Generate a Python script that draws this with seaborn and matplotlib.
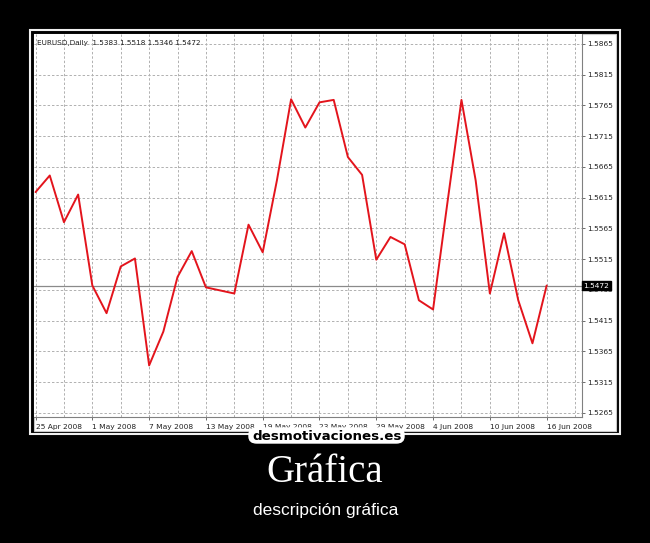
import numpy as np
import matplotlib
matplotlib.use("Agg")
import matplotlib.pyplot as plt
from matplotlib.patches import Rectangle, FancyBboxPatch
import seaborn as sns

# ── data ──────────────────────────────────────────────────────────────────────

# EURUSD daily closes, one per trading day (25 Apr 2008 → 16 Jun 2008)
close = [1.5624, 1.5651, 1.5575, 1.5620, 1.5472, 1.5427, 1.5503, 1.5516,
         1.5342, 1.5397, 1.5486, 1.5528, 1.5469, 1.5464, 1.5459, 1.5571,
         1.5526, 1.5643, 1.5775, 1.5729, 1.5770, 1.5774, 1.5681, 1.5652,
         1.5514, 1.5551, 1.5539, 1.5448, 1.5433, 1.5605, 1.5774, 1.5643,
         1.5459, 1.5557, 1.5448, 1.5378, 1.5472]
bars = list(range(len(close)))

date_labels = ["25 Apr 2008", "1 May 2008", "7 May 2008", "13 May 2008",
               "19 May 2008", "23 May 2008", "29 May 2008", "4 Jun 2008",
               "10 Jun 2008", "16 Jun 2008"]
price_ticks = [1.5865, 1.5815, 1.5765, 1.5715, 1.5665, 1.5615, 1.5565,
               1.5515, 1.5465, 1.5415, 1.5365, 1.5315, 1.5265]
last_price = 1.5472
header = "EURUSD,Daily  1.5383 1.5518 1.5346 1.5472"

# ── style ─────────────────────────────────────────────────────────────────────

sns.set_style("white")
plt.rcParams["font.family"] = ["DejaVu Sans"]

W, H = 650, 543


def fx(px):
    return px / W


def fy(py):
    return 1 - py / H


fig = plt.figure(figsize=(W / 100, H / 100), dpi=100, facecolor="black")

# poster frame: white line, black gap, white screenshot (kept behind the axes)
fig.patches.append(Rectangle((fx(30), fy(434)), fx(590), 404 / H, transform=fig.transFigure,
                             fill=False, edgecolor="#f0f0f0", lw=1.5, zorder=0))
fig.patches.append(Rectangle((fx(34), fy(431)), fx(582), 397 / H, transform=fig.transFigure,
                             facecolor="white", edgecolor="#c8c8c8", lw=0.8, zorder=0))

# ── chart ─────────────────────────────────────────────────────────────────────

ax = fig.add_axes([fx(34), fy(417), fx(582 - 34), (417 - 34) / H])
ax.set_zorder(2)
ax.set_facecolor("white")

grid_kw = dict(color="#b0b0b0", lw=0.7, linestyle=(0, (2.5, 2)))
for x in range(0, 40, 2):
    ax.axvline(x, **grid_kw, zorder=0)
for y in price_ticks:
    ax.axhline(y, **grid_kw, zorder=0)
ax.axhline(last_price, color="#8a8a8a", lw=0.9, zorder=1)

sns.lineplot(x=bars, y=close, color="#e3141c", lw=1.4, ax=ax, zorder=3)

ax.set_xlim(-0.11, 38.49)
ax.set_ylim(1.52581, 1.58812)

ax.yaxis.tick_right()
ax.set_yticks(price_ticks)
ax.set_yticklabels([f"{v:.4f}" for v in price_ticks])
ax.set_xticks(bars[::4])
ax.set_xticklabels(date_labels, ha="left")
ax.tick_params(axis="both", labelsize=5.4, colors="#555555", labelcolor="#222222",
               length=2.5, width=0.6, pad=1.5)
ax.tick_params(axis="y", right=True, left=False, labelright=True, labelleft=False)
ax.tick_params(axis="x", bottom=True, pad=2.5)
ax.set_xlabel("")
ax.set_ylabel("")

for side, sp in ax.spines.items():
    sp.set_color("#808080")
    sp.set_linewidth(0.8)
ax.spines["top"].set_visible(False)
ax.spines["left"].set_visible(False)

ax.text(0.006, 0.976, header, transform=ax.transAxes, fontsize=5.2,
        color="#222222", va="center", ha="left")

# current price marker on the right axis
ax.text(1.003, last_price, f"{last_price:.4f}", transform=ax.get_yaxis_transform(),
        fontsize=5.4, color="white", va="center", ha="left", zorder=5, clip_on=False,
        bbox=dict(boxstyle="square,pad=0.25", facecolor="black", edgecolor="black"))

# ── poster text ───────────────────────────────────────────────────────────────

fig.patches.append(FancyBboxPatch((fx(249), fy(443)), fx(155), 15 / H,
                                  boxstyle="round,pad=0.0,rounding_size=0.012",
                                  transform=fig.transFigure, facecolor="white",
                                  edgecolor="white", lw=1, zorder=3))
fig.text(fx(327), fy(436), "desmotivaciones.es", color="black", fontsize=9.6,
         ha="center", va="center", family=["DejaVu Sans"], fontweight="bold", zorder=4)

fig.text(fx(325), fy(472), "Gráfica", color="white", fontsize=28,
         ha="center", va="center", family=["Liberation Serif"], zorder=4)
fig.text(fx(326), fy(511), "descripción gráfica", color="white", fontsize=12.5,
         ha="center", va="center", family=["Liberation Sans"], zorder=4)

fig.savefig("out.png", dpi=100, facecolor="black")
